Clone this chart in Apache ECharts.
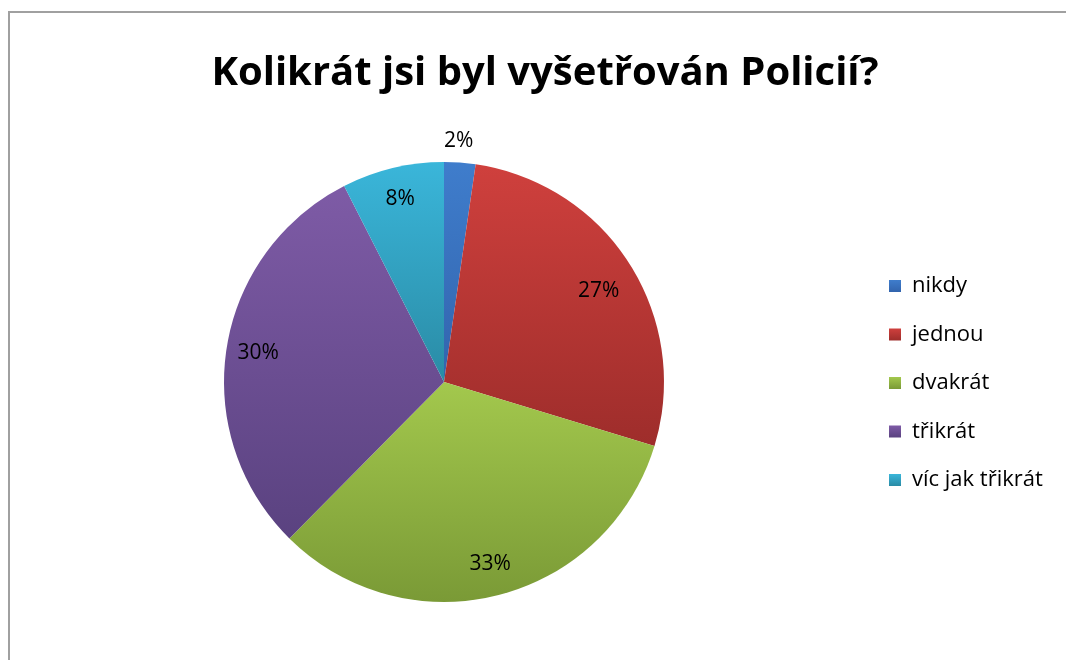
<!DOCTYPE html>
<html>
<head>
<meta charset="utf-8">
<script src="https://cdn.jsdelivr.net/npm/echarts@6/dist/echarts.min.js"></script>
<style>
  html, body { margin: 0; padding: 0; background: #fff; }
  #chart { width: 1066px; height: 660px; }
</style>
</head>
<body>
<div id="chart"></div>
<script>
// data (percent of answers)
const categories = ["nikdy", "jednou", "dvakrát", "třikrát", "víc jak třikrát"];
const values = [2.3, 27.4, 32.7, 30.1, 7.5];
// top / bottom colour of each slice gradient
const topColors = ["#3f7dcc", "#cf403d", "#a3c84d", "#7e5ba6", "#3ab6da"];
const bottomColors = ["#3264ad", "#9e2d2b", "#7a9a36", "#5a4280", "#2a8ba5"];

const FONT = '"Open Sans", "Noto Sans", sans-serif';

function grad(i) {
  return new echarts.graphic.LinearGradient(0, 0, 0, 1, [
    { offset: 0, color: topColors[i] },
    { offset: 1, color: bottomColors[i] }
  ]);
}

const pieData = categories.map((name, i) => ({
  name: name,
  value: values[i],
  itemStyle: { color: grad(i) }
}));

// transparent ring only used to put the labels near the rim
const labelData = categories.map((name, i) => {
  const item = { name: name, value: values[i], itemStyle: { color: "rgba(0,0,0,0)" } };
  if (i === 0) {
    // small slice: label sits above the pie
    item.label = { position: "inside", offset: [1, -53] };
  }
  if (i === 1) {
    item.label = { offset: [-4, 10] };
  }
  return item;
});

const chart = echarts.init(document.getElementById("chart"));
chart.setOption({
  animation: false,
  title: {
    text: "Kolikrát jsi byl vyšetřován Policií?",
    left: 540,
    textAlign: "center",
    top: 49,
    textStyle: { fontFamily: FONT, fontWeight: "bold", fontSize: 40, color: "#000" }
  },
  legend: {
    orient: "vertical",
    left: 889,
    top: 275,
    padding: 0,
    icon: "rect",
    itemWidth: 12,
    itemHeight: 12,
    itemGap: 26.5,
    itemStyle: { borderWidth: 0 },
    data: categories,
    textStyle: { fontFamily: FONT, fontSize: 22, color: "#000", padding: [0, 0, 0, 6] }
  },
  graphic: [{
    type: "rect",
    shape: { x: 9, y: 12, width: 1100, height: 700 },
    style: { fill: "none", stroke: "#a0a0a0", lineWidth: 2 },
    silent: true
  }],
  series: [
    {
      type: "pie",
      center: [444, 382],
      radius: [0, 220],
      startAngle: 90,
      clockwise: true,
      label: { show: false },
      labelLine: { show: false },
      itemStyle: { borderWidth: 0 },
      data: pieData
    },
    {
      type: "pie",
      center: [444, 382],
      radius: [150, 220],
      startAngle: 90,
      clockwise: true,
      silent: true,
      label: {
        show: true,
        position: "inside",
        fontFamily: FONT,
        fontSize: 21,
        color: "#000",
        formatter: p => Math.round(p.value) + "%"
      },
      labelLine: { show: false },
      emphasis: { disabled: true },
      data: labelData
    }
  ]
});
</script>
</body>
</html>
